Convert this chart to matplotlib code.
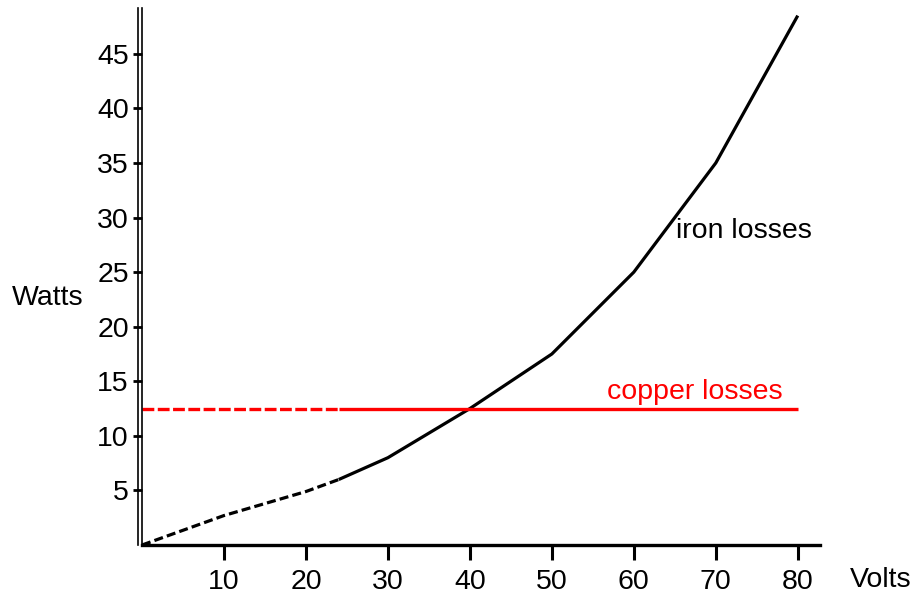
import matplotlib
matplotlib.use('Agg')
import matplotlib.pyplot as plt
from matplotlib.lines import Line2D
from matplotlib.transforms import ScaledTranslation

plt.rcParams['font.family'] = ['Liberation Sans', 'DejaVu Sans']
plt.rcParams['lines.scale_dashes'] = False

# iron losses: dashed (extrapolated) part and measured part
iron_dash_v = [0, 10, 20, 24]
iron_dash_w = [0, 2.7, 4.9, 6]
iron_v = [24, 30, 40, 50, 60, 70, 80]
iron_w = [6, 8, 12.5, 17.5, 25, 35, 48.5]

# copper losses (constant)
copper_dash_v = [0, 24]
copper_v = [24, 80]
copper_w = 12.5

xticks = [10, 20, 30, 40, 50, 60, 70, 80]
yticks = [5, 10, 15, 20, 25, 30, 35, 40, 45]

fig = plt.figure(figsize=(9.12, 5.95), dpi=100)
ax = fig.add_axes([0.1557, 0.084, 0.899 - 0.1557, 0.9866 - 0.084])

ax.plot(iron_dash_v, iron_dash_w, color='black', lw=2.3, dashes=(6.5, 3))
ax.plot(iron_v, iron_w, color='black', lw=2.3, solid_capstyle='butt')
ax.plot(copper_dash_v, [copper_w] * 2, color='red', lw=2.4, dashes=(8.5, 2.5))
ax.plot(copper_v, [copper_w] * 2, color='red', lw=2.4, solid_capstyle='butt')

ax.text(65.2, 28.8, 'iron losses', fontsize=20.5, va='center', ha='left')
ax.text(56.7, 14.0, 'copper losses', fontsize=20.5, va='center', ha='left', color='red')

ax.set_xlim(0, 82.7)
ax.set_ylim(0, 49.2)
ax.set_xticks(xticks)
ax.set_yticks(yticks)
ax.tick_params(axis='x', length=11, width=2.2, pad=6, labelsize=20.5)
ax.tick_params(axis='y', length=6.5, width=2, pad=3, labelsize=20.5)

for s in ['top', 'right']:
    ax.spines[s].set_visible(False)
ax.spines['bottom'].set_linewidth(2.4)
ax.spines['left'].set_linewidth(1.2)

# second thin line of the double y axis
off = ScaledTranslation(-4 / 100, 0, fig.dpi_scale_trans)
ax.add_line(Line2D([0, 0], [0, 1], transform=ax.transAxes + off,
                   color='black', lw=1.2, clip_on=False))

fig.text(12 / 912, 1 - 298 / 595, 'Watts', fontsize=20.5, va='center', ha='left')
fig.text(850 / 912, 1 - 580 / 595, 'Volts', fontsize=20.5, va='center', ha='left')

fig.savefig('out.png', dpi=100)
